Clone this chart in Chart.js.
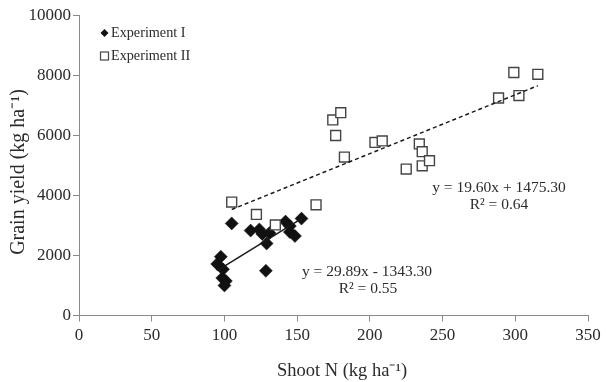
<!DOCTYPE html>
<html>
<head>
<meta charset="utf-8">
<script src="https://cdn.jsdelivr.net/npm/chart.js@4"></script>
<style>
  html, body { margin: 0; padding: 0; background: #fff; }
  #wrap { width: 607px; height: 382px; }
</style>
</head>
<body>
<div id="wrap"><canvas id="yield_chart"></canvas></div>
<script>
// Experiment I (filled diamonds)
const exp1X = [95, 97.5, 99, 98.5, 101, 100, 105, 118, 124, 126, 129, 128.5, 131, 142, 145, 145, 148.5, 153];
const exp1Y = [1720, 1960, 1540, 1250, 1150, 1000, 3070, 2830, 2870, 2720, 2400, 1490, 2750, 3130, 2980, 2780, 2650, 3230];
// Experiment II (open squares)
const exp2X = [105, 122, 135, 163, 174.5, 176.5, 180, 182.5, 203.5, 208.5, 225, 234, 236, 236, 241, 288.5, 299, 302.5, 315.5];
const exp2Y = [3780, 3370, 3020, 3690, 6520, 6000, 6760, 5280, 5770, 5820, 4880, 5720, 5460, 4990, 5160, 7250, 8100, 7330, 8040];
// fitted lines, as printed on the chart
const fit1 = { slope: 29.89, icept: -1343.30, r2: '0.55' };
const fit2 = { slope: 19.60, icept: 1475.30, r2: '0.64' };
const xTicks = [0, 50, 100, 150, 200, 250, 300, 350];
const yTicks = [0, 2000, 4000, 6000, 8000, 10000];

const SERIF = '"Liberation Serif", "Times New Roman", serif';
const TXT = '#2b2b2b';

function pts(xs, ys) {
    return xs.map((x, i) => ({ x: x, y: ys[i] }));
}
function fitLine(xs, f) {
    const lo = Math.min(...xs), hi = Math.max(...xs);
    return [{ x: lo, y: f.slope * lo + f.icept }, { x: hi, y: f.slope * hi + f.icept }];
}
function eqText(f) {
    const sign = f.icept < 0 ? ' - ' : ' + ';
    return 'y = ' + f.slope.toFixed(2) + 'x' + sign + Math.abs(f.icept).toFixed(2);
}

// legend, equations and axis titles (the titles sit a bit off-centre in the original)
const notes = {
    id: 'notes',
    afterDatasetsDraw(chart) {
        const c = chart.ctx;
        c.save();
        // legend
        c.fillStyle = '#111';
        c.beginPath();
        c.moveTo(100.5, 33); c.lineTo(104.5, 29); c.lineTo(108.5, 33); c.lineTo(104.5, 37);
        c.closePath(); c.fill();
        c.strokeStyle = '#444'; c.lineWidth = 1.2;
        c.strokeRect(100.5, 52, 8, 8);
        c.fillStyle = TXT;
        c.font = '14.2px ' + SERIF;
        c.textAlign = 'left'; c.textBaseline = 'middle';
        c.fillText('Experiment I', 111, 33);
        c.fillText('Experiment II', 111, 56);
        // equations
        c.font = '15.5px ' + SERIF;
        c.textAlign = 'center';
        c.fillText(eqText(fit2), 499, 188);
        c.fillText('R\u00B2 = ' + fit2.r2, 499, 205);
        c.fillText(eqText(fit1), 367, 272);
        c.fillText('R\u00B2 = ' + fit1.r2, 368, 289);
        // axis titles
        c.font = '18.5px ' + SERIF;
        c.fillText('Shoot N (kg ha\u207B\u00B9)', 342, 371);
        c.translate(19, 172);
        c.rotate(-Math.PI / 2);
        c.font = '20px ' + SERIF;
        c.fillText('Grain yield (kg ha\u207B\u00B9)', 0, 0);
        c.restore();
    }
};

const ctx = document.getElementById('yield_chart').getContext('2d');
new Chart(ctx, {
    type: 'scatter',
    data: {
        datasets: [
            {
                label: 'fit I',
                data: fitLine(exp1X, fit1),
                showLine: true,
                borderColor: '#1a1a1a',
                borderWidth: 1.5,
                pointRadius: 0
            },
            {
                label: 'fit II',
                data: fitLine(exp2X, fit2),
                showLine: true,
                borderColor: '#1a1a1a',
                borderWidth: 1.5,
                borderDash: [4, 3],
                pointRadius: 0
            },
            {
                label: 'Experiment II',
                data: pts(exp2X, exp2Y),
                pointStyle: 'rect',
                pointRadius: 7,
                backgroundColor: '#fff',
                borderColor: '#444',
                borderWidth: 1.4
            },
            {
                label: 'Experiment I',
                data: pts(exp1X, exp1Y),
                pointStyle: 'rectRot',
                pointRadius: 6.5,
                backgroundColor: '#111',
                borderColor: '#111',
                borderWidth: 0.5
            }
        ]
    },
    options: {
        responsive: true,
        maintainAspectRatio: false,
        animation: false,
        layout: { padding: { top: 15.5, right: 19, bottom: 0, left: 0 } },
        plugins: {
            legend: { display: false },
            tooltip: { enabled: false }
        },
        scales: {
            x: {
                type: 'linear',
                min: 0, max: 350,
                afterBuildTicks: axis => { axis.ticks = xTicks.map(v => ({ value: v })); },
                afterFit: axis => { axis.height = 66.5; },
                border: { color: '#8a8a8a', width: 1 },
                grid: { drawOnChartArea: false, drawTicks: true, tickLength: 6, color: '#8a8a8a' },
                ticks: { color: TXT, font: { family: SERIF, size: 17 }, padding: 4, maxRotation: 0,
                         callback: v => String(v) }
            },
            y: {
                min: 0, max: 10000,
                afterBuildTicks: axis => { axis.ticks = yTicks.map(v => ({ value: v })); },
                afterFit: axis => { axis.width = 79; },
                border: { color: '#8a8a8a', width: 1 },
                grid: { drawOnChartArea: false, drawTicks: true, tickLength: 6, color: '#8a8a8a' },
                ticks: { color: TXT, font: { family: SERIF, size: 17 }, padding: 2,
                         callback: v => String(v) }
            }
        }
    },
    plugins: [notes]
});
</script>
</body>
</html>
